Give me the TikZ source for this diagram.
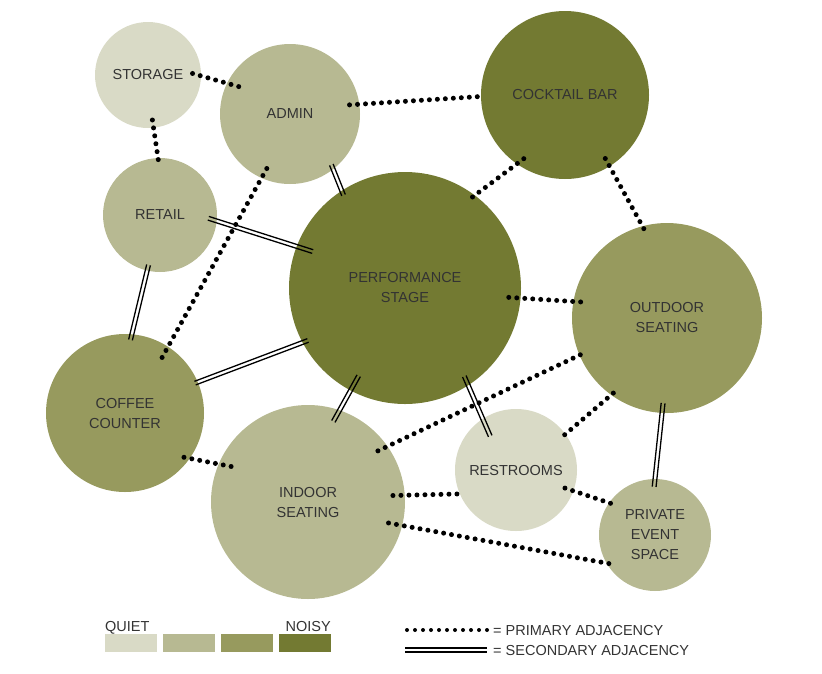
\documentclass[tikz,border=0pt]{standalone}
\usepackage{fontspec}
\setmainfont{Liberation Sans}
\usetikzlibrary{calc}
\definecolor{quiet}{HTML}{D9DAC6}
\definecolor{calm}{HTML}{B7B992}
\definecolor{busy}{HTML}{979A5E}
\definecolor{noisy}{HTML}{737A32}
\definecolor{labelgray}{HTML}{333333}
% two thin parallel lines, gap left open
\newcommand{\secondary}[4]{%
  \draw[secline, shorten <=#3, shorten >=#4] ($(#1)!1.9pt!90:(#2)$) -- ($(#2)!1.9pt!-90:(#1)$);
  \draw[secline, shorten <=#3, shorten >=#4] ($(#1)!1.9pt!-90:(#2)$) -- ($(#2)!1.9pt!90:(#1)$);}
\begin{document}
\begin{tikzpicture}[x=1pt,y=-1pt,
  room/.style={circle, inner sep=0pt, minimum size=#1, align=center, text=labelgray, font=\fontsize{14.5}{20}\selectfont},
  txt/.style={text=labelgray, inner sep=0pt, font=\fontsize{14.5}{20}\selectfont},
  primary/.style={line width=5pt, line cap=round, dash pattern=on 0pt off 8pt},
  secline/.style={line width=1.3pt}]

\useasboundingbox (0,0) rectangle (822,673);

% Rooms
\node[room=106pt, fill=quiet] (storage) at (148,75) {STORAGE};
\node[room=140pt, fill=calm] (admin) at (290,114) {ADMIN};
\node[room=168pt, fill=noisy] (cocktail) at (565,95) {COCKTAIL BAR};
\node[room=114pt, fill=calm] (retail) at (160,215) {RETAIL};
\node[room=232pt, fill=noisy] (stage) at (405,288) {PERFORMANCE\\STAGE};
\node[room=190pt, fill=busy] (outdoor) at (667,318) {OUTDOOR\\SEATING};
\node[room=158pt, fill=busy] (coffee) at (125,413) {COFFEE\\COUNTER};
\node[room=194pt, fill=calm] (indoor) at (308,502) {INDOOR\\SEATING};
\node[room=122pt, fill=quiet] (restrooms) at (516,470) {RESTROOMS};
\node[room=112pt, fill=calm] (private) at (655,535) {PRIVATE\\EVENT\\SPACE};

% Primary adjacencies
\draw[primary, shorten <=-9pt, shorten >=-14pt] (storage.-1) -- (admin.154);
\draw[primary, shorten <=-8pt, shorten >=-2pt] (storage.-84) -- (retail.92);
\draw[primary, shorten <=-10pt, shorten >=-1pt] (admin.8) -- (cocktail.181);
\draw[primary, shorten <=-11pt, shorten >=-15pt] (admin.-114) -- (coffee.57);
\draw[primary, shorten <=-3pt, shorten >=-11pt] (stage.53) -- (cocktail.-125);
\draw[primary, shorten <=-9pt, shorten >=-9pt] (cocktail.-58) -- (outdoor.105);
\draw[primary, shorten <=-12pt, shorten >=-12pt] (stage.-5) -- (outdoor.170);
\draw[primary, shorten <=-6pt, shorten >=-19pt] (coffee.-35) -- (indoor.157);
\draw[primary, shorten <=-1pt, shorten >=-11pt] (outdoor.-157) -- (indoor.35);
\draw[primary, shorten <=-3pt, shorten >=-7pt] (outdoor.-126) -- (restrooms.36);
\draw[primary, shorten <=-12pt, shorten >=-4pt] (indoor.4) -- (restrooms.-157);
\draw[primary, shorten <=-9pt, shorten >=-4pt] (restrooms.-20) -- (private.145);
\draw[primary, shorten <=-14pt, shorten >=-6pt] (indoor.-14) -- (private.-150);

% Secondary adjacencies
\secondary{admin.-52}{stage.123}{-5pt}{-5pt}
\secondary{retail.-6}{stage.159}{-9pt}{-17pt}
\secondary{retail.-103}{coffee.85}{-6pt}{-6pt}
\secondary{coffee.23}{stage.-152}{-3pt}{-6pt}
\secondary{stage.-118}{indoor.71}{-17pt}{-13pt}
\secondary{stage.-57}{restrooms.123}{-10pt}{-19pt}
\secondary{outdoor.-93}{private.90}{-10pt}{-8pt}

% Legend: noise scale
\foreach \c [count=\i from 0] in {quiet,calm,busy,noisy} {
    \fill[\c] (105+58*\i,634) rectangle ++(52,18);
}
\node[txt, anchor=base west] (quietlbl) at (105,631) {QUIET};
\node[txt, anchor=base east] (noisylbl) at (331,631) {NOISY};

% Legend: adjacency types
\coordinate (dotA) at (407,630);
\coordinate (dotB) at (487,630);
\draw[primary, line width=4pt] (dotA) -- (dotB);
\node[txt, anchor=west] (primlbl) at (493,630) {= PRIMARY ADJACENCY};
\coordinate (dblA) at (405,650);
\coordinate (dblB) at (487,650);
\secondary{dblA}{dblB}{0pt}{0pt}
\node[txt, anchor=west] (seclbl) at (493,650) {= SECONDARY ADJACENCY};
\end{tikzpicture}
\end{document}
